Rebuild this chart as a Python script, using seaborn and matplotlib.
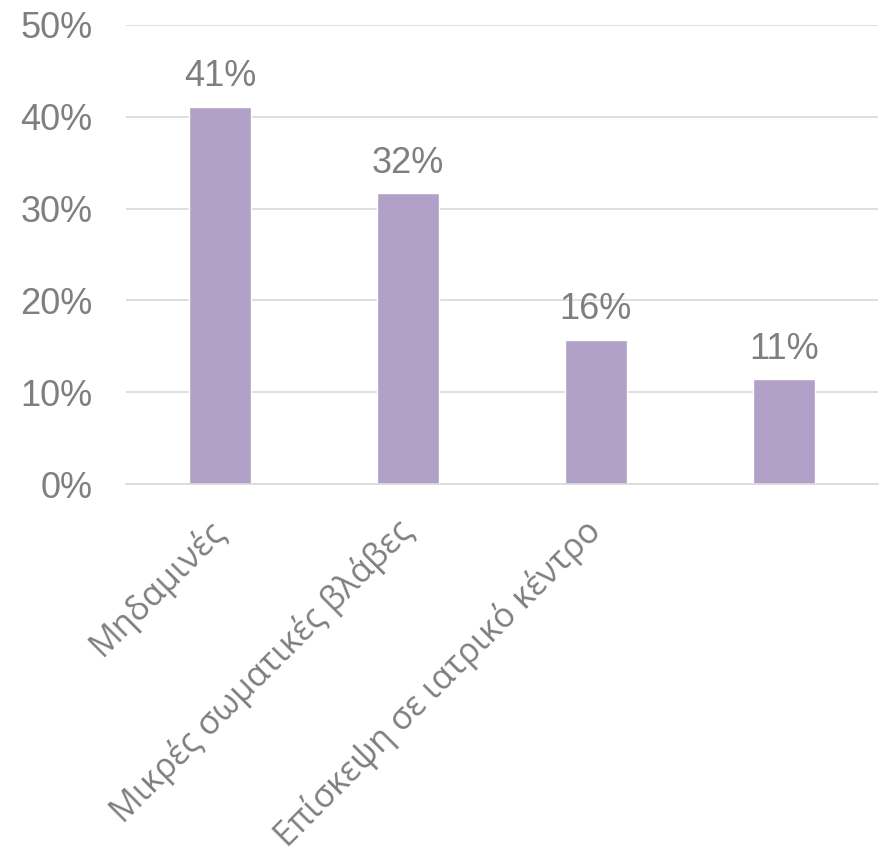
import matplotlib
matplotlib.use("Agg")
import matplotlib.pyplot as plt
import matplotlib.ticker as mtick
import seaborn as sns
import pandas as pd

categories = ["Μηδαμινές", "Μικρές σωματικές βλάβες", "Επίσκεψη σε ιατρικό κέντρο", ""]
values = [41.1, 31.7, 15.7, 11.4]
value_labels = ["41%", "32%", "16%", "11%"]

sns.set_style("white")
plt.rcParams['font.family'] = ['Liberation Sans', 'DejaVu Sans']

df = pd.DataFrame({"cat": categories, "value": values})

fig = plt.figure(figsize=(8.84, 8.60), dpi=100)
ax = fig.add_axes([0.1425, 0.437, 0.8505, 0.534])

sns.barplot(data=df, x="cat", y="value", ax=ax, color="#b1a0c7",
            saturation=1, width=0.33, order=categories)

ax.set_ylim(0, 50)
ax.set_yticks(range(0, 51, 10))
ax.yaxis.set_major_formatter(mtick.FuncFormatter(lambda v, _: f"{int(v)}%"))
ax.grid(axis="y", color="#d9d9d9", linewidth=1.2)
ax.set_axisbelow(True)
for side in ["top", "right", "left"]:
    ax.spines[side].set_visible(False)
ax.spines["bottom"].set_color("#d9d9d9")
ax.spines["bottom"].set_linewidth(1.2)

ax.tick_params(axis="both", length=0, labelsize=26, colors="#7f7f7f")
ax.tick_params(axis="y", pad=24)
ax.tick_params(axis="x", pad=30, labelsize=24.5)
ax.set_xticks(range(len(categories)))
ax.set_xticklabels(categories, rotation=45, ha="right", va="center",
                   rotation_mode="anchor", family=["Open Sans", "DejaVu Sans"])
ax.set_xlabel("")
ax.set_ylabel("")

for cont in ax.containers:
    ax.bar_label(cont, labels=value_labels, padding=9, fontsize=26, color="#7f7f7f")

fig.savefig("out.png", dpi=100)
